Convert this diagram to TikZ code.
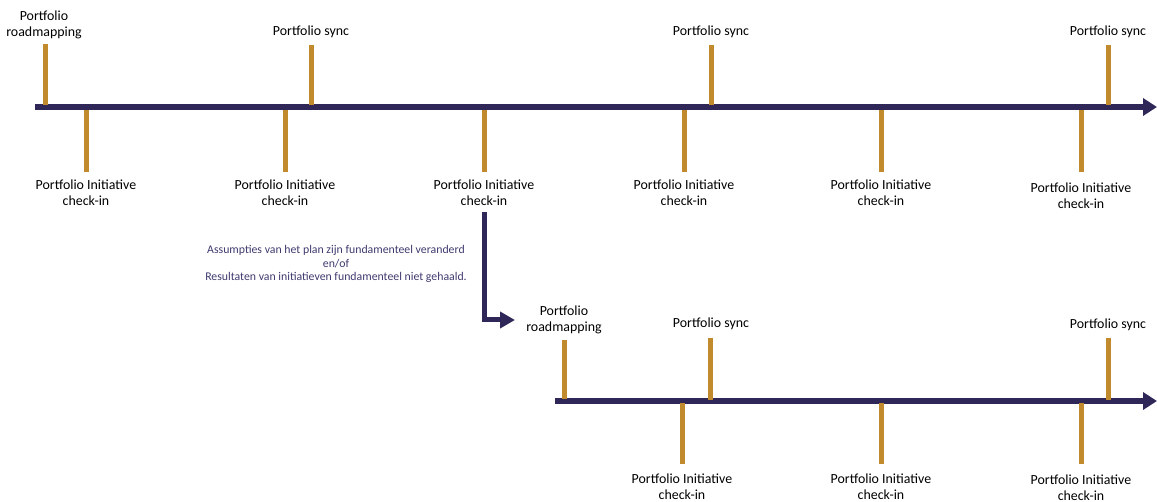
\documentclass[tikz,border=0pt]{standalone}
\usepackage{fontspec}
\setmainfont{Carlito}
\usetikzlibrary{arrows.meta}
\definecolor{navy}{HTML}{2F2758}
\definecolor{gold}{HTML}{C18A2C}
\definecolor{notecol}{HTML}{3E3A6E}
\begin{document}
\begin{tikzpicture}[x=1pt,y=-1pt,
  timeline/.style={draw=navy, line width=5.5pt, -{Triangle[length=14pt,width=17pt]}},
  goldtick/.style={draw=gold, line width=5pt},
  lbl/.style={align=center, font=\fontsize{13.9}{16}\selectfont, inner sep=0pt},
  note/.style={align=center, text=notecol, font=\fontsize{11.8}{13.5}\selectfont, inner sep=0pt},
  bendarrow/.style={draw=navy, line width=5pt, line join=miter, -{Triangle[length=15pt,width=16pt]}}]
\useasboundingbox (0,0) rectangle (1157,502);

% top timeline
\coordinate (t0) at (35,107);
\coordinate (t1) at (1157,107);
\draw[timeline] (t0) -- (t1);

% top ticks above
\foreach \x in {45}{\draw[goldtick] (\x,44) -- (\x,105);}
\foreach \x in {311,711,1108}{\draw[goldtick] (\x,45) -- (\x,105);}
% top ticks below
\foreach \x in {86,285,484,684,881,1081}{\draw[goldtick] (\x,110) -- (\x,172);}

% top labels
\node[lbl] (rm1) at (44,25) {Portfolio\\roadmapping};
\node[lbl] (s1) at (311,32) {Portfolio sync};
\node[lbl] (s2) at (711,32) {Portfolio sync};
\node[lbl] (s3) at (1108,32) {Portfolio sync};
\node[lbl] (c1) at (86,193) {Portfolio Initiative\\check-in};
\node[lbl] (c2) at (285,193) {Portfolio Initiative\\check-in};
\node[lbl] (c3) at (484,193) {Portfolio Initiative\\check-in};
\node[lbl] (c4) at (684,193) {Portfolio Initiative\\check-in};
\node[lbl] (c5) at (881,193) {Portfolio Initiative\\check-in};
\node[lbl] (c6) at (1081,196) {Portfolio Initiative\\check-in};

% note
\node[note] (nt) at (336,264) {Assumpties van het plan zijn fundamenteel veranderd\\en/of\\Resultaten van initiatieven fundamenteel niet gehaald.};

% bend arrow
\coordinate (bk) at (484,320);
\coordinate (be) at (515,320);
\draw[bendarrow] ([yshift=-6pt]c3.south) -- (bk) -- (be);

% bottom timeline
\coordinate (b0) at (555,401);
\coordinate (b1) at (1157,401);
\draw[timeline] (b0) -- (b1);

\draw[goldtick] (564,340) -- (564,399);
\foreach \x in {710,1108}{\draw[goldtick] (\x,338) -- (\x,400);}
\foreach \x in {682,881,1081}{\draw[goldtick] (\x,403) -- (\x,464);}

\node[lbl] (rm2) at (564,320) {Portfolio\\roadmapping};
\node[lbl] (s4) at (711,324) {Portfolio sync};
\node[lbl] (s5) at (1108,325) {Portfolio sync};
\node[lbl] (c7) at (682,487) {Portfolio Initiative\\check-in};
\node[lbl] (c8) at (881,487) {Portfolio Initiative\\check-in};
\node[lbl] (c9) at (1081,488) {Portfolio Initiative\\check-in};
\end{tikzpicture}
\end{document}
